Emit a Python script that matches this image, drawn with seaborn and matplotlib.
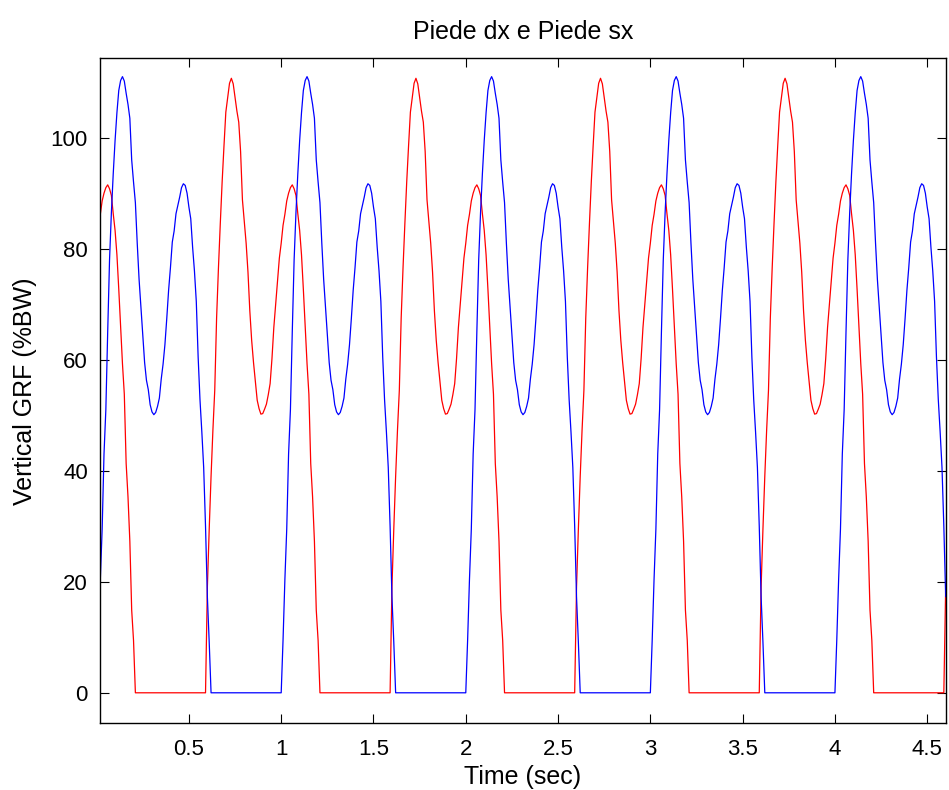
import numpy as np
import pandas as pd
import matplotlib
matplotlib.use("Agg")
import matplotlib.pyplot as plt
from matplotlib.ticker import FormatStrFormatter
import seaborn as sns

# Vertical ground reaction force during one stance phase (%BW),
# sampled every 0.01 s from heel strike to toe-off.
STEP = 0.01
stance_dx = [0, 9.5, 20.4, 29.5, 43, 51, 65, 78, 86.5, 93.5,
             99.5, 104.5, 108.5, 110.3, 111, 110.2, 108, 106, 103.5, 96,
             92, 88.3, 81, 74.5, 69.5, 64.7, 59.5, 56.3, 54.6, 51.9,
             50.6, 50.1, 50.5, 51.6, 53.1, 56.5, 59.2, 62.7, 67.4, 72.5,
             76.6, 81.2, 83.2, 86.3, 87.8, 89.3, 91.0, 91.7, 91.4, 90.0,
             87.5, 85.4, 80.3, 76, 70.5, 60.5, 52.8, 47, 40.6, 30,
             17.3, 9.1, 0]
stance_sx = [0, 19, 29.5, 39, 47.3, 54.5, 67.5, 76.5, 84.5, 92,
             98.5, 104.6, 107.2, 109.8, 110.7, 109.7, 107.2, 104.8, 102.8, 97.5,
             88.8, 84.8, 81, 75.8, 68.8, 63.5, 59.5, 56, 52.7, 51.2,
             50.2, 50.3, 51.1, 52, 53.7, 55.7, 60.2, 65.8, 70, 74.4,
             78.3, 81, 84.2, 86.2, 88.6, 90, 91, 91.5, 90.8, 89.6,
             86.3, 83.3, 78.9, 72.7, 65.9, 59.3, 53.8, 41.3, 35.3, 27.3,
             14.9, 9.4, 0]

# Heel-strike times (s) of each foot
onsets_dx = [0.00, 1.00, 2.00, 3.00, 4.00]
onsets_sx = [-0.41, 0.59, 1.59, 2.59, 3.59, 4.59]

t_start, t_end = 0.02, 4.60
x_ticks = [0.5, 1, 1.5, 2, 2.5, 3, 3.5, 4, 4.5]
y_ticks = [0, 20, 40, 60, 80, 100]

time = np.round(np.arange(round(t_start / STEP), round(t_end / STEP) + 1) * STEP, 2)


def foot_force(profile, onsets):
    prof = np.asarray(profile, dtype=float)
    force = np.zeros_like(time)
    for onset in onsets:
        k = np.rint((time - onset) / STEP).astype(int)
        inside = (k >= 0) & (k < len(prof))
        force[inside] = prof[k[inside]]
    return force


df = pd.concat([
    pd.DataFrame({"time": time, "grf": foot_force(stance_sx, onsets_sx), "foot": "sx"}),
    pd.DataFrame({"time": time, "grf": foot_force(stance_dx, onsets_dx), "foot": "dx"}),
], ignore_index=True)

sns.set_theme(style="ticks")
plt.rcParams["font.family"] = ["Liberation Sans", "DejaVu Sans"]
plt.rcParams["text.color"] = "black"
plt.rcParams["axes.labelcolor"] = "black"

fig = plt.figure(figsize=(9.49, 7.90), dpi=100)
ax = fig.add_axes([0.1057, 0.0844, 0.8908, 0.8418])

sns.lineplot(data=df, x="time", y="grf", hue="foot", hue_order=["sx", "dx"],
             palette={"sx": "#ff0000", "dx": "#0000ff"}, estimator=None,
             linewidth=0.9, legend=False, ax=ax)

ax.set_xlim(t_start, t_end)
ax.set_ylim(-5.5, 114.3)
ax.set_xticks(x_ticks)
ax.set_yticks(y_ticks)
ax.xaxis.set_major_formatter(FormatStrFormatter("%g"))
ax.tick_params(direction="in", length=6.5, width=0.8, colors="black",
               labelsize=16, top=True, right=True, pad=9)
ax.tick_params(axis="x", pad=11)
for side in ax.spines.values():
    side.set_visible(True)
    side.set_color("black")
    side.set_linewidth(1.0)

ax.set_xlabel("Time (sec)", fontsize=18, labelpad=4, color="black")
ax.set_ylabel("Vertical GRF (%BW)", fontsize=18, labelpad=10, color="black")
ax.set_title("Piede dx e Piede sx", fontsize=18, pad=14, color="black")

fig.savefig("out.png", dpi=100, facecolor="white")
